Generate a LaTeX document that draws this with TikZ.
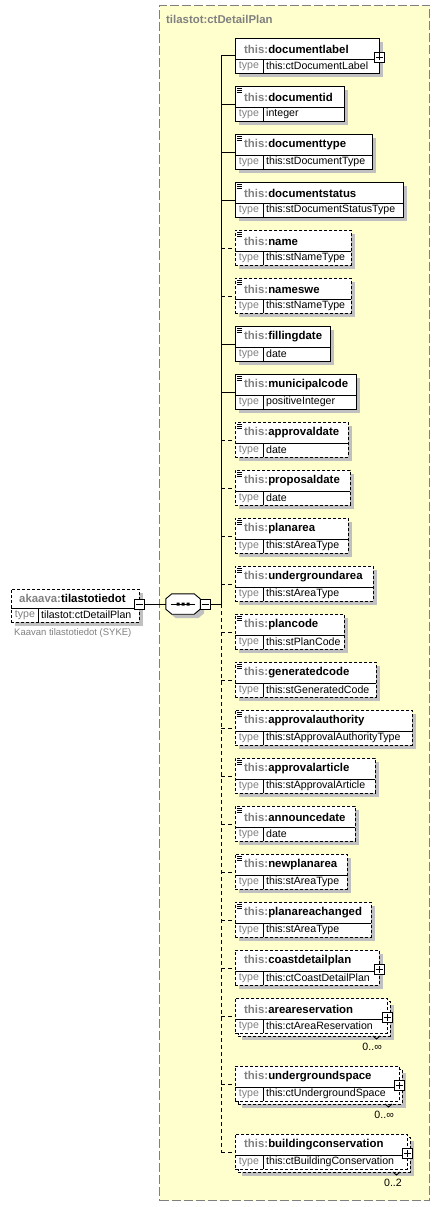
\documentclass[tikz,border=0pt]{standalone}
\usepackage{fontspec}
\setmainfont{Liberation Sans}
\usetikzlibrary{positioning,shadows}
\definecolor{notepaper}{RGB}{255,255,206}
\definecolor{framegray}{RGB}{128,128,128}
\definecolor{dimtext}{RGB}{128,128,128}
\definecolor{shadowgray}{RGB}{192,192,192}

% element box: name, top, right edge, type, box style, link style
\newcommand{\elembody}[6]{%
  \node (#1) [#5, minimum width={(#3-235)*1pt}, anchor=north west] at (235,#2) {};
  \draw [divider] (235,{#2+21}) -- (#3,{#2+21}) (263,{#2+21}) -- (263,{#2+35});
  \node (#1-name) [elabel] at (244,{#2+11}) {\textcolor{dimtext}{this:}#1};
  \node (#1-kw) [kwlabel] at (249,{#2+28}) {type};
  \node (#1-type) [tlabel] at (266,{#2+28}) {#4};
  \draw [#6] (trunk |- #1.west) -- (#1.west);
}
\newcommand{\simpleelem}[6]{%
  \elembody{#1}{#2}{#3}{#4}{#5}{#6}
  \draw [divider] (237,{#2+2}) -- (242,{#2+2}) (237,{#2+4}) -- (242,{#2+4}) (237,{#2+6}) -- (242,{#2+6});
}
\newcommand{\complexelem}[6]{%
  \elembody{#1}{#2}{#3}{#4}{#5}{#6}
  \node (#1-plus) [plusbox] at (#3,{#2+19}) {};
}
% stacked box behind a repeating element: name, top, right edge, occurrence
\newcommand{\backbox}[4]{%
  \node (#1-back) [backbox, minimum width={(#3-235)*1pt}, anchor=north west] at (238,{#2+3}) {};
  \draw [divider] ({#3-14},{#2+38}) -- ({#3-10.5},{#2+41}) -- ({#3-7},{#2+38});
  \node (#1-occ) [occlabel] at ({#3-5},{#2+49}) {#4};
}

\begin{document}
\begin{tikzpicture}[
    x=1pt, y=-1pt,
    box/.style={rectangle, draw, fill=white, minimum height=35pt, inner sep=0pt, line width=0.9pt},
    shadowed/.style={drop shadow={shadow xshift=4pt, shadow yshift=-4pt, fill=shadowgray, opacity=1}},
    reqbox/.style={box, shadowed},
    optbox/.style={box, shadowed, dash pattern=on 3pt off 2pt},
    frontbox/.style={box, dash pattern=on 3pt off 2pt},
    backbox/.style={box, shadowed, dash pattern=on 3pt off 2pt},
    divider/.style={line width=0.9pt},
    link/.style={line width=0.9pt},
    optlink/.style={line width=0.9pt, dash pattern=on 4pt off 3pt},
    elabel/.style={anchor=west, inner sep=0pt, font=\fontsize{11.4}{13}\selectfont\bfseries},
    tlabel/.style={anchor=west, inner sep=0pt, font=\fontsize{10.6}{12}\selectfont},
    kwlabel/.style={inner sep=0pt, text=dimtext, font=\fontsize{10.6}{12}\selectfont},
    occlabel/.style={anchor=east, inner sep=0pt, font=\fontsize{10.6}{12}\selectfont},
    notelabel/.style={anchor=west, inner sep=0pt, text=dimtext, font=\fontsize{9.5}{11}\selectfont},
    plusbox/.style={draw, fill=white, minimum size=10pt, inner sep=0pt, line width=0.9pt,
      path picture={\draw (path picture bounding box.center) +(-3.5pt,0) -- +(3.5pt,0) +(0,-3.5pt) -- +(0,3.5pt);}},
    minusbox/.style={draw, fill=white, minimum size=10pt, inner sep=0pt, line width=0.9pt,
      path picture={\draw (path picture bounding box.center) +(-3.5pt,0) -- +(3.5pt,0);}},
    seqbox/.style={rectangle, minimum width=34pt, minimum height=20pt, inner sep=0pt},
    seqline/.style={draw, fill=white, line width=0.9pt, shadowed},
    cmframe/.style={rectangle, draw=framegray, fill=notepaper, line width=1pt, dash pattern=on 9pt off 3pt, inner sep=0pt}
]
\useasboundingbox (0,0) rectangle (440,1207);

% Content model frame
\node (frame) [cmframe, anchor=north west, minimum width=270pt, minimum height=1195pt] at (159,5) {};
\node (frame-title) [elabel, text=dimtext] at (166,19) {tilastot:ctDetailPlan};

% Root element
\node (root) [optbox, minimum width=128pt, minimum height=33pt, anchor=north west] at (11,589) {};
\draw [divider] (11,608) -- (139,608) (38,608) -- (38,622);
\node (root-name) [elabel] at (19,598) {\textcolor{dimtext}{akaava:}tilastotiedot};
\node (root-kw) [kwlabel] at (25,615) {type};
\node (root-type) [tlabel] at (41,615) {tilastot:ctDetailPlan};
\node (root-minus) [minusbox] at (139,604) {};
\node (root-note) [notelabel] at (14,633) {Kaavan tilastotiedot (SYKE)};

% Sequence
\node (seq) [seqbox] at (183,604) {};
\draw [seqline] ([xshift=6pt]seq.north west) -- ([xshift=-6pt]seq.north east)
  -- ([yshift=-5pt]seq.north east) -- ([yshift=5pt]seq.south east)
  -- ([xshift=-6pt]seq.south east) -- ([xshift=6pt]seq.south west)
  -- ([yshift=5pt]seq.south west) -- ([yshift=-5pt]seq.north west) -- cycle;
\draw [link] ([xshift=5pt]seq.west) -- ([xshift=-5pt]seq.east);
\fill ([xshift=-6.5pt,yshift=-1.5pt]seq.center) rectangle ([xshift=-3.5pt,yshift=1.5pt]seq.center)
  ([xshift=-1.5pt,yshift=-1.5pt]seq.center) rectangle ([xshift=1.5pt,yshift=1.5pt]seq.center)
  ([xshift=3.5pt,yshift=-1.5pt]seq.center) rectangle ([xshift=6.5pt,yshift=1.5pt]seq.center);
\node (seq-minus) [minusbox] at (205,604) {};
\coordinate (trunk) at (221,604);
\draw [link] (root-minus) -- (seq);
\draw [link] (seq-minus) -- (trunk);

% Child elements
\complexelem{documentlabel}{38}{379}{this:ctDocumentLabel}{reqbox}{link}
\simpleelem{documentid}{86}{344}{integer}{reqbox}{link}
\simpleelem{documenttype}{134}{372}{this:stDocumentType}{reqbox}{link}
\simpleelem{documentstatus}{182}{403}{this:stDocumentStatusType}{reqbox}{link}
\simpleelem{name}{230}{351}{this:stNameType}{optbox}{optlink}
\simpleelem{nameswe}{278}{351}{this:stNameType}{optbox}{optlink}
\simpleelem{fillingdate}{326}{330}{date}{reqbox}{link}
\simpleelem{municipalcode}{374}{356}{positiveInteger}{reqbox}{link}
\simpleelem{approvaldate}{422}{348}{date}{optbox}{optlink}
\simpleelem{proposaldate}{470}{350}{date}{optbox}{optlink}
\simpleelem{planarea}{518}{348}{this:stAreaType}{optbox}{optlink}
\simpleelem{undergroundarea}{566}{373}{this:stAreaType}{optbox}{optlink}
\simpleelem{plancode}{614}{344}{this:stPlanCode}{optbox}{optlink}
\simpleelem{generatedcode}{662}{376}{this:stGeneratedCode}{optbox}{optlink}
\simpleelem{approvalauthority}{710}{412}{this:stApprovalAuthorityType}{optbox}{optlink}
\simpleelem{approvalarticle}{758}{375}{this:stApprovalArticle}{optbox}{optlink}
\simpleelem{announcedate}{806}{355}{date}{optbox}{optlink}
\simpleelem{newplanarea}{854}{347}{this:stAreaType}{optbox}{optlink}
\simpleelem{planareachanged}{902}{371}{this:stAreaType}{optbox}{optlink}
\complexelem{coastdetailplan}{950}{379}{this:ctCoastDetailPlan}{optbox}{optlink}
\backbox{areareservation}{998}{387}{0..∞}
\complexelem{areareservation}{998}{387}{this:ctAreaReservation}{frontbox}{optlink}
\backbox{undergroundspace}{1066}{399}{0..∞}
\complexelem{undergroundspace}{1066}{399}{this:ctUndergroundSpace}{frontbox}{optlink}
\backbox{buildingconservation}{1134}{407}{0..2}
\complexelem{buildingconservation}{1134}{407}{this:ctBuildingConservation}{frontbox}{optlink}

% Trunk
\draw [link] (trunk) -- (trunk |- documentlabel.west);
\draw [optlink] (trunk) -- (trunk |- buildingconservation.west);

\end{tikzpicture}
\end{document}
